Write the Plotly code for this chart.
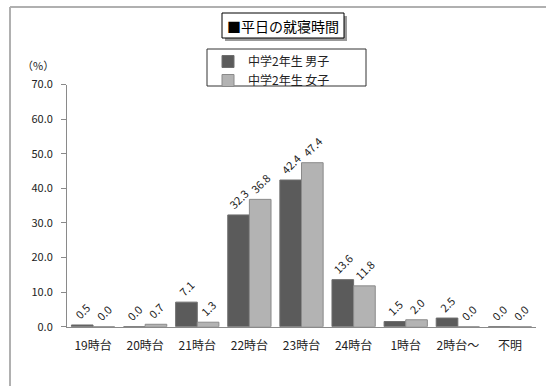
import plotly.graph_objects as go

categories = ["19時台", "20時台", "21時台", "22時台", "23時台", "24時台", "1時台", "2時台～", "不明"]
boys = [0.5, 0.0, 7.1, 32.3, 42.4, 13.6, 1.5, 2.5, 0.0]
girls = [0.0, 0.7, 1.3, 36.8, 47.4, 11.8, 2.0, 0.0, 0.0]
series_names = ["中学2年生 男子", "中学2年生 女子"]
title_text = "■平日の就寝時間"
unit_text = "（%）"

W, H = 546, 386
FONT = "Noto Sans CJK JP, sans-serif"

def px(x):
    return x / W

def py(y):
    return 1 - y / H

fig = go.Figure()
fig.add_trace(go.Bar(
    x=categories, y=boys, name=series_names[0],
    marker=dict(color="#5b5b5b", line=dict(color="#6e6e6e", width=1)),
    texttemplate="%{y:.1f}", textposition="outside", textangle=-45,
    constraintext="none", cliponaxis=False,
    textfont=dict(size=11, color="#222222", family=FONT),
))
fig.add_trace(go.Bar(
    x=categories, y=girls, name=series_names[1],
    marker=dict(color="#b3b3b3", line=dict(color="#8a8a8a", width=1)),
    texttemplate="%{y:.1f}", textposition="outside", textangle=-45,
    constraintext="none", cliponaxis=False,
    textfont=dict(size=11, color="#222222", family=FONT),
))

shapes = [
    # outer frame (left and top edges)
    dict(type="line", xref="paper", yref="paper", x0=px(10), x1=px(10), y0=py(386), y1=py(7),
         line=dict(color="#b0b0b0", width=2)),
    dict(type="line", xref="paper", yref="paper", x0=px(10), x1=px(546), y0=py(7), y1=py(7),
         line=dict(color="#b0b0b0", width=2)),
    # title shadow
    dict(type="rect", xref="paper", yref="paper", x0=px(225), x1=px(347), y0=py(41), y1=py(16),
         fillcolor="#9a9a9a", line=dict(width=0)),
    dict(type="rect", xref="paper", yref="paper", x0=px(222), x1=px(344), y0=py(38), y1=py(13),
         fillcolor="white", line=dict(color="black", width=1)),
    # legend box
    dict(type="rect", xref="paper", yref="paper", x0=px(207), x1=px(366), y0=py(86), y1=py(49),
         fillcolor="rgba(0,0,0,0)", line=dict(color="#333333", width=1)),
]

annotations = [
    dict(text=title_text, xref="paper", yref="paper", x=px(283), y=py(25.5),
         xanchor="center", yanchor="middle", showarrow=False,
         font=dict(size=14, color="black", family=FONT)),
    dict(text=unit_text, xref="paper", yref="paper", x=px(38), y=py(65),
         xanchor="center", yanchor="middle", showarrow=False,
         font=dict(size=11, color="#222222", family=FONT)),
]

fig.update_layout(
    template="none",
    width=W, height=H,
    margin=dict(l=0, r=0, t=0, b=0, pad=0, autoexpand=False),
    paper_bgcolor="white", plot_bgcolor="white",
    font=dict(family=FONT, size=11, color="#222222"),
    barmode="group", bargap=0.17, bargroupgap=0,
    showlegend=True,
    legend=dict(x=px(208), y=py(47), xanchor="left", yanchor="top",
                bgcolor="rgba(0,0,0,0)", borderwidth=0,
                font=dict(size=12, family=FONT, color="#222222"),
                tracegroupgap=0, itemwidth=30),
    xaxis=dict(domain=[px(67), px(536)], showline=True, linecolor="#8a8a8a", linewidth=1,
               ticks="", ticklabelstandoff=8, automargin=False,
               tickfont=dict(size=12, family=FONT, color="#222222"),
               showgrid=False, zeroline=False, fixedrange=True),
    yaxis=dict(domain=[py(326.7), py(84.5)], range=[0, 70], dtick=10, tickformat=".1f",
               showline=True, linecolor="#8a8a8a", linewidth=1, automargin=False,
               ticks="outside", ticklen=5, tickcolor="#8a8a8a", ticklabelstandoff=6,
               tickfont=dict(size=11, family=FONT, color="#222222"),
               showgrid=False, zeroline=False, fixedrange=True),
    shapes=shapes, annotations=annotations,
)

post = (
    "document.documentElement.style.margin='0';"
    "document.body.style.margin='0';document.body.style.padding='0';"
    "document.body.style.overflow='hidden';"
    "var d=document.getElementById('{plot_id}');"
    "d.style.position='fixed';d.style.left='0px';d.style.top='0px';"
)
fig.write_html("out.html", config={"displayModeBar": False}, post_script=post)
